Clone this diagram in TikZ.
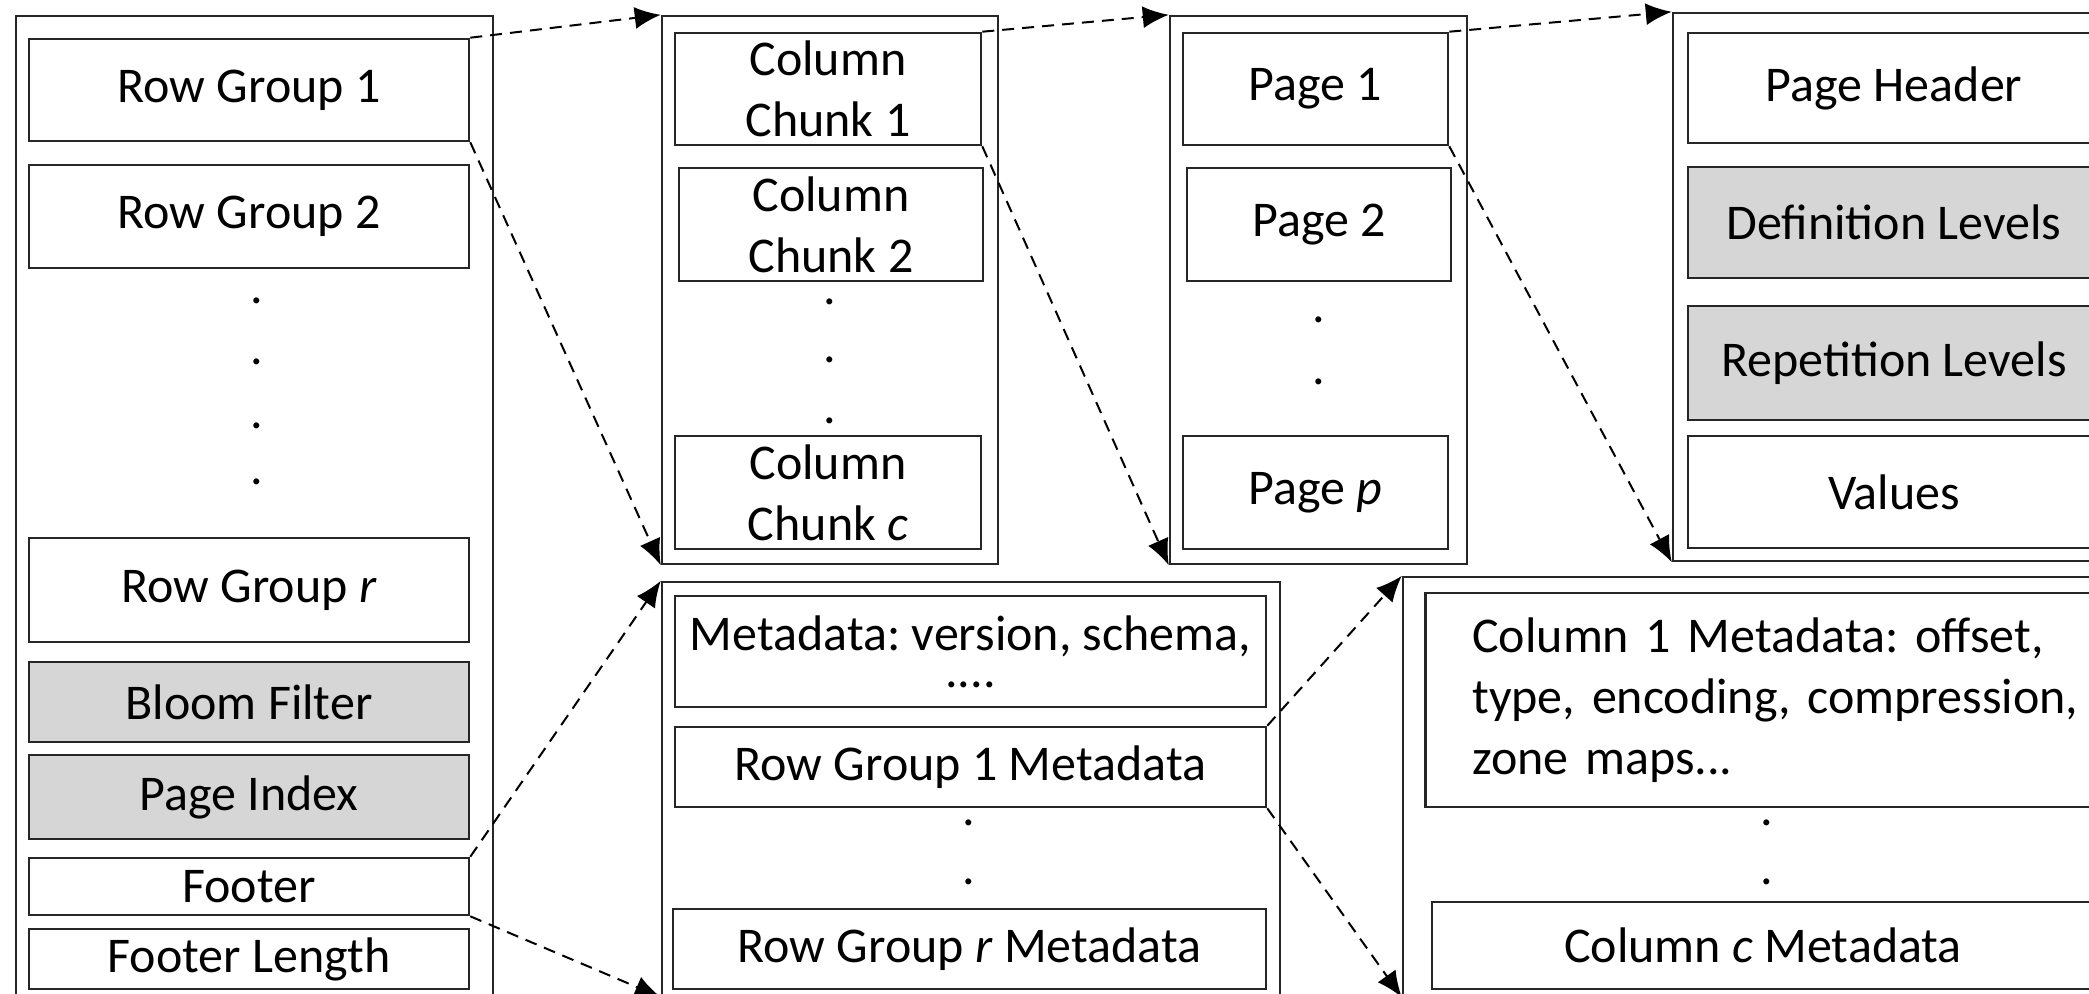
\documentclass[tikz,border=0pt]{standalone}
\usepackage{fontspec}
\setmainfont{Carlito}
\usepackage{tikz}
\usetikzlibrary{arrows.meta}

\begin{document}
\frenchspacing
\begin{tikzpicture}[x=0.5pt, y=-0.5pt]
                % Define styles
                \tikzstyle{box_frame} = [rectangle, draw=black!85, line width=1.2pt, inner sep=0pt]
                \tikzstyle{box_part} = [font=\fontsize{25}{30.5}\selectfont, rectangle, draw=black!85, line width=1.3pt, text centered, inner sep=0pt]
                \tikzstyle{box_shaded} = [box_part, fill=gray!32]
                \tikzstyle{dot} = [font=\fontsize{25}{30.5}\selectfont, inner sep=0pt]
                \tikzstyle{line} = [draw, dashed, dash pattern=on 6pt off 4pt, line width=1pt, -{Latex[length=13pt, width=11pt]}]

                \path [use as bounding box, clip] (0,0) rectangle (2089,993);

                % Frames
                \node [box_frame, minimum width=238.5pt, minimum height=492pt] (file_frame) at (254.5,508) {};
                \node [box_frame, minimum width=168pt, minimum height=274pt] (chunk_frame) at (830,290) {};
                \node [box_frame, minimum width=148.5pt, minimum height=274pt] (page_frame) at (1318.5,290) {};
                \node [box_frame, minimum width=218.5pt, minimum height=274pt] (page_parts_frame) at (1891.5,287) {};
                \node [box_frame, minimum width=309pt, minimum height=207pt] (footer_frame) at (971,789) {};
                \node [box_frame, minimum width=353.5pt, minimum height=209.5pt] (col_meta_frame) at (1756.5,786.5) {};

                % File
                \node [box_part, minimum width=220pt, minimum height=51pt] (row_group_1) at (249,90) {Row Group 1};
                \node [box_part, minimum width=220pt, minimum height=51.5pt] (row_group_2) at (249,216.5) {Row Group 2};
                \node [dot] (file_dot_1) at (257,301) {.};
                \node [dot] (file_dot_2) at (257,362) {.};
                \node [dot] (file_dot_3) at (257,426) {.};
                \node [dot] (file_dot_4) at (257,482) {.};
                \node [box_part, minimum width=220pt, minimum height=52pt] (row_group_r) at (249,590) {Row Group \textit{r}};
                \node [box_shaded, minimum width=220pt, minimum height=40pt] (bloom_filter) at (249,702) {Bloom Filter};
                \node [box_shaded, minimum width=220pt, minimum height=42pt] (page_index) at (249,797) {Page Index};
                \node [box_part, minimum width=220pt, minimum height=28.5pt] (footer) at (249,886.5) {Footer};
                \node [box_part, minimum width=220pt, minimum height=30pt] (footer_length) at (249,959) {Footer Length};

                % Column chunks
                \node [box_part, minimum width=153pt, minimum height=56pt, align=center] (chunk_1) at (828,89) {Column\\Chunk 1};
                \node [box_part, minimum width=152pt, minimum height=56.5pt, align=center] (chunk_2) at (831,224.5) {Column\\Chunk 2};
                \node [dot] (chunk_dot_1) at (830,302) {.};
                \node [dot] (chunk_dot_2) at (830,360) {.};
                \node [dot] (chunk_dot_3) at (830,421) {.};
                \node [box_part, minimum width=153pt, minimum height=56.5pt, align=center] (chunk_c) at (828,492.5) {Column\\Chunk \textit{c}};

                % Pages
                \node [box_part, minimum width=132.5pt, minimum height=56pt] (page_1) at (1315.5,89) {Page 1};
                \node [box_part, minimum width=132pt, minimum height=56.5pt] (page_2) at (1319,224.5) {Page 2};
                \node [dot] (page_dot_1) at (1319,320) {.};
                \node [dot] (page_dot_2) at (1319,382) {.};
                \node [box_part, minimum width=132.5pt, minimum height=56.5pt] (page_p) at (1315.5,492.5) {Page \textit{p}};

                % Page parts
                \node [box_part, minimum width=206pt, minimum height=55pt] (page_header) at (1894,88) {Page Header};
                \node [box_shaded, minimum width=206pt, minimum height=55.5pt] (def_levels) at (1894,222.5) {Definition Levels};
                \node [box_shaded, minimum width=206pt, minimum height=57pt] (rep_levels) at (1894,363) {Repetition Levels};
                \node [box_part, minimum width=206pt, minimum height=56pt] (values) at (1894,492) {Values};

                % Footer
                \node [box_part, minimum width=295.5pt, minimum height=55.5pt, align=center] (file_meta) at (970.5,651.5) {Metadata: version, schema,\\[-12pt]....};
                \node [box_part, minimum width=295.5pt, minimum height=40pt] (row_group_1_meta) at (970.5,767) {Row Group 1 Metadata};
                \node [dot] (footer_dot_1) at (969,823) {.};
                \node [dot] (footer_dot_2) at (969,882) {.};
                \node [box_part, minimum width=296.5pt, minimum height=40pt] (row_group_r_meta) at (969.5,949) {Row Group \textit{r} Metadata};

                % Column metadata
                \node [box_part, anchor=west, minimum height=107pt, text width=315pt, inner xsep=23.5pt, align=left] (col_1_meta) at (1424,700) {Column 1 Metadata: offset,\\type, encoding, compression,\\zone maps...};
                \node [dot] (col_meta_dot_1) at (1767,823) {.};
                \node [dot] (col_meta_dot_2) at (1767,882) {.};
                \node [box_part, minimum width=331pt, minimum height=43.5pt] (col_c_meta) at (1763,945.5) {Column \textit{c} Metadata};

                % Lines
                \path [line] (row_group_1.north east) -- (chunk_frame.north west);
                \path [line] (row_group_1.south east) -- (chunk_frame.south west);

                \path [line] (chunk_1.north east) -- (page_frame.north west);
                \path [line] (chunk_1.south east) -- (page_frame.south west);

                \path [line] (page_1.north east) -- (page_parts_frame.north west);
                \path [line] (page_1.south east) -- (page_parts_frame.south west);

                \path [line] (footer.north east) -- (footer_frame.north west);
                \path [line] (footer.south east) -- (footer_frame.south west);

                \path [line] (row_group_1_meta.north east) -- (col_meta_frame.north west);
                \path [line] (row_group_1_meta.south east) -- (col_meta_frame.south west);
            \end{tikzpicture}
\end{document}
